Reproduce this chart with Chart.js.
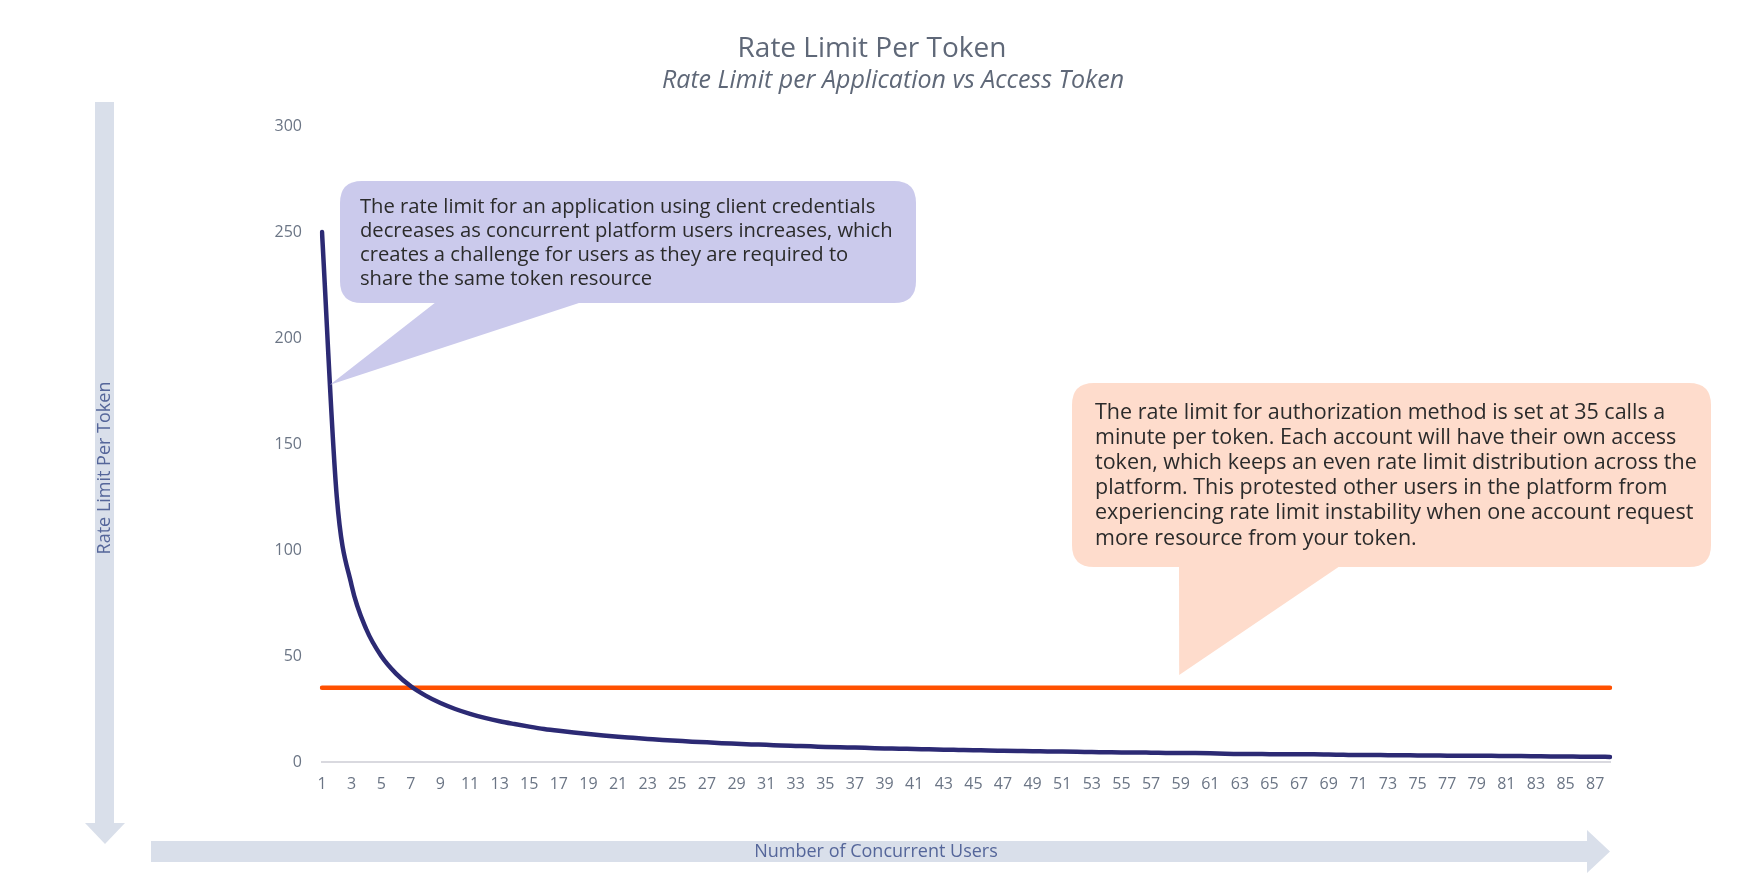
<!DOCTYPE html>
<html>
<head>
<meta charset="utf-8">
<script src="https://cdn.jsdelivr.net/npm/chart.js@4/dist/chart.umd.min.js"></script>
<style>
  html, body { margin: 0; padding: 0; background: #fff; }
  #wrap { width: 1739px; height: 888px; position: relative; }
</style>
</head>
<body>
<div id="wrap"><canvas id="rate"></canvas></div>
<script>
// number of concurrent users (x axis)
const users = [];
for (let i = 1; i <= 88; i++) users.push(String(i));

// rate limit per token, client credentials
const appLimit = [
  250, 125, 83.3, 62.5, 50, 41.7, 35.7, 31.3, 27.8, 25,
  22.7, 20.8, 19.2, 17.9, 16.7, 15.6, 14.7, 13.9, 13.2, 12.5,
  11.9, 11.4, 10.9, 10.4, 10, 9.6, 9.3, 8.9, 8.6, 8.3,
  8.1, 7.8, 7.6, 7.4, 7.1, 6.9, 6.8, 6.6, 6.4, 6.3,
  6.1, 6.0, 5.8, 5.7, 5.6, 5.4, 5.3, 5.2, 5.1, 5.0,
  4.9, 4.8, 4.7, 4.6, 4.5, 4.5, 4.4, 4.3, 4.2, 4.2,
  4.1, 3.9, 3.8, 3.8, 3.7, 3.7, 3.6, 3.6, 3.5, 3.4,
  3.3, 3.3, 3.2, 3.2, 3.1, 3.1, 3.0, 3.0, 2.9, 2.9,
  2.8, 2.8, 2.7, 2.6, 2.6, 2.5, 2.5, 2.4
];

// authorization method: flat 35 calls a minute per token
const tokenLimit = users.map(() => 35);

const yTicks = [0, 50, 100, 150, 200, 250, 300];

const chartTitle = 'Rate Limit Per Token';
const chartSubtitle = 'Rate Limit per Application vs Access Token';
const xTitle = 'Number of Concurrent Users';
const yTitle = 'Rate Limit Per Token';

const noteApp = [
  'The rate limit for an application using client credentials',
  'decreases as concurrent platform users increases, which',
  'creates a challenge for users as they are required to',
  'share the same token resource'
];
const noteToken = [
  'The rate limit for authorization method is set at 35 calls a',
  'minute per token. Each account will have their own access',
  'token, which keeps an even rate limit distribution across the',
  'platform. This protested other users in the platform from',
  'experiencing rate limit instability when one account request',
  'more resource from your token.'
];

const FONT = '"Open Sans", Lato, sans-serif';

function roundRect(ctx, x, y, w, h, r) {
  ctx.beginPath();
  ctx.moveTo(x + r, y);
  ctx.lineTo(x + w - r, y);
  ctx.quadraticCurveTo(x + w, y, x + w, y + r);
  ctx.lineTo(x + w, y + h - r);
  ctx.quadraticCurveTo(x + w, y + h, x + w - r, y + h);
  ctx.lineTo(x + r, y + h);
  ctx.quadraticCurveTo(x, y + h, x, y + h - r);
  ctx.lineTo(x, y + r);
  ctx.quadraticCurveTo(x, y, x + r, y);
  ctx.closePath();
}

function callout(ctx, box, base, tip, color, lines, text) {
  ctx.save();
  ctx.fillStyle = color;
  roundRect(ctx, box.x, box.y, box.w, box.h, 22);
  ctx.fill();
  ctx.beginPath();
  ctx.moveTo(base[0], box.y + box.h - 1);
  ctx.lineTo(base[1], box.y + box.h - 1);
  ctx.lineTo(tip.x, tip.y);
  ctx.closePath();
  ctx.fill();
  ctx.fillStyle = '#2b2b2b';
  ctx.font = text.size + 'px ' + FONT;
  ctx.textBaseline = 'middle';
  lines.forEach((t, i) => ctx.fillText(t, box.x + text.pad, box.y + text.top + i * text.lineH));
  ctx.restore();
}

// titles, arrows along the axes and the two speech bubbles
const decorations = {
  id: 'decorations',
  beforeDraw(chart) {
    const ctx = chart.ctx;
    ctx.save();
    ctx.textAlign = 'center';
    ctx.textBaseline = 'middle';
    ctx.fillStyle = '#5f6878';
    ctx.font = '28px ' + FONT;
    ctx.fillText(chartTitle, 872, 49);
    ctx.font = 'italic 25px ' + FONT;
    ctx.fillText(chartSubtitle, 893, 81);

    ctx.fillStyle = '#d9dfea';
    // vertical arrow
    ctx.fillRect(95, 102, 19, 722);
    ctx.beginPath();
    ctx.moveTo(85, 823);
    ctx.lineTo(125, 823);
    ctx.lineTo(105, 844);
    ctx.closePath();
    ctx.fill();
    // horizontal arrow
    ctx.fillRect(151, 841, 1437, 21);
    ctx.beginPath();
    ctx.moveTo(1587, 830);
    ctx.lineTo(1610, 851.5);
    ctx.lineTo(1587, 873);
    ctx.closePath();
    ctx.fill();

    ctx.fillStyle = '#55669a';
    ctx.font = '18px ' + FONT;
    ctx.fillText(xTitle, 876, 852);
    ctx.translate(105, 468);
    ctx.rotate(-Math.PI / 2);
    ctx.fillText(yTitle, 0, 0);
    ctx.restore();
  },
  afterDatasetsDraw(chart) {
    const ctx = chart.ctx;
    const x = chart.scales.x, y = chart.scales.y;
    callout(ctx, { x: 340, y: 181, w: 576, h: 122 }, [436, 582],
      { x: x.getPixelForValue(0) + 8, y: y.getPixelForValue(178) },
      '#cbcaec', noteApp, { size: 20.2, pad: 20, top: 26, lineH: 24.2 });
    callout(ctx, { x: 1072, y: 383, w: 639, h: 184 }, [1179, 1340],
      { x: x.getPixelForValue(57.9), y: y.getPixelForValue(41) },
      '#fedccc', noteToken, { size: 21.5, pad: 23, top: 29.5, lineH: 25.2 });
  }
};

new Chart(document.getElementById('rate'), {
  type: 'line',
  data: {
    labels: users,
    datasets: [{
      label: 'Client credentials',
      data: appLimit,
      borderColor: '#2c2a74',
      borderWidth: 4.5,
      pointRadius: 0,
      cubicInterpolationMode: 'monotone',
      borderCapStyle: 'round'
    }, {
      label: 'Access token',
      data: tokenLimit,
      borderColor: '#ff5000',
      borderWidth: 4.5,
      pointRadius: 0,
      borderCapStyle: 'round'
    }]
  },
  options: {
    responsive: true,
    maintainAspectRatio: false,
    animation: false,
    layout: { padding: { left: 200, right: 129, top: 126, bottom: 86 } },
    plugins: {
      legend: { display: false },
      tooltip: { enabled: false },
      title: { display: false },
      subtitle: { display: false }
    },
    scales: {
      x: {
        offset: false,
        grid: { display: false, drawTicks: false },
        border: { display: true, color: '#d9d9df', width: 2 },
        ticks: {
          color: '#6b7585',
          font: { family: FONT, size: 16 },
          padding: 13,
          autoSkip: false,
          maxRotation: 0,
          callback: (v, i) => (i % 2 === 0 ? users[i] : '')
        },
        afterFit: (s) => { s.height = 40; }
      },
      y: {
        min: 0,
        max: 300,
        afterBuildTicks: (s) => { s.ticks = yTicks.map(v => ({ value: v })); },
        grid: { display: false, drawTicks: false },
        border: { display: false },
        ticks: {
          color: '#6b7585',
          font: { family: FONT, size: 16 },
          padding: 20
        },
        afterFit: (s) => { s.width = 122; }
      }
    }
  },
  plugins: [decorations]
});
</script>
</body>
</html>
